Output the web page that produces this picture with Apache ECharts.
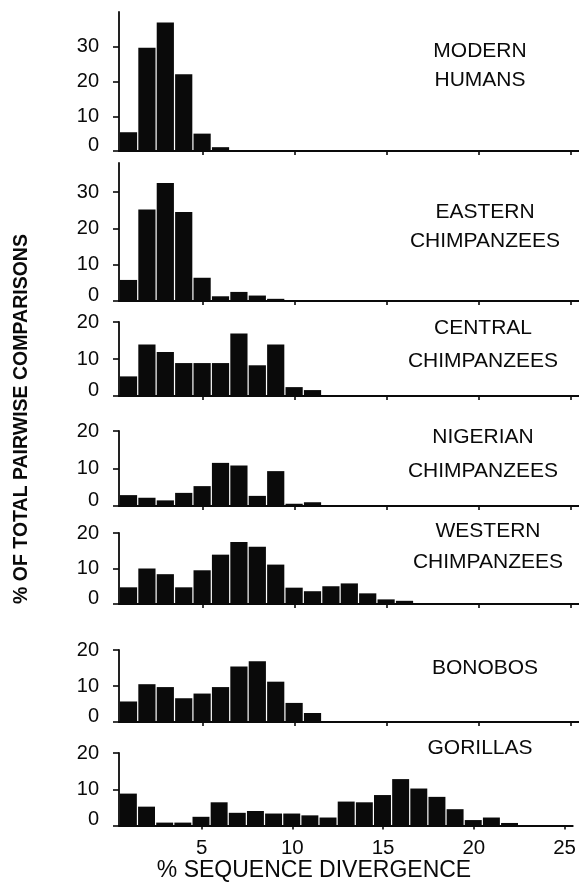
<!DOCTYPE html>
<html><head><meta charset="utf-8">
<script src="https://cdn.jsdelivr.net/npm/echarts@6/dist/echarts.min.js"></script>
<style>html,body{margin:0;padding:0;background:#fff}#c{width:579px;height:886px}</style>
</head><body><div id="c"></div>
<script>
// ---- data (bin centre = 1,2,3,... % divergence, bin width 1) ----
const panelTitles = [
  ['MODERN', 'HUMANS'],
  ['EASTERN', 'CHIMPANZEES'],
  ['CENTRAL', 'CHIMPANZEES'],
  ['NIGERIAN', 'CHIMPANZEES'],
  ['WESTERN', 'CHIMPANZEES'],
  ['BONOBOS'],
  ['GORILLAS']
];
const modernHumans = [5.4, 29.7, 37.0, 22.1, 5.0, 1.1];
const easternChimps = [5.8, 25.2, 32.5, 24.5, 6.4, 1.3, 2.5, 1.5, 0.6];
const centralChimps = [5.3, 13.9, 11.9, 8.9, 8.9, 8.9, 16.9, 8.3, 13.9, 2.4, 1.6];
const nigerianChimps = [2.9, 2.2, 1.5, 3.5, 5.3, 11.5, 10.8, 2.7, 9.3, 0.6, 1.0];
const westernChimps = [4.7, 10.0, 8.4, 4.7, 9.5, 13.9, 17.5, 16.1, 11.1, 4.6, 3.6, 5.0, 5.8, 3.0, 1.3, 0.9];
const bonobos = [5.7, 10.5, 9.7, 6.6, 7.9, 9.7, 15.4, 16.9, 11.2, 5.3, 2.5];
const gorillas = [8.8, 5.2, 0.8, 0.8, 2.4, 6.4, 3.5, 4.0, 3.3, 3.3, 2.8, 2.2, 6.6, 6.4, 8.4, 12.8, 10.2, 7.9, 4.5, 1.5, 2.2, 0.7];
const xTickValues = [5, 10, 15, 20, 25];
const yTicksTall = [0, 10, 20, 30];
const yTicksShort = [0, 10, 20];
const yAxisTitle = '% OF TOTAL PAIRWISE COMPARISONS';
const xAxisTitle = '% SEQUENCE DIVERGENCE';

const seriesValues = [modernHumans, easternChimps, centralChimps, nigerianChimps, westernChimps, bonobos, gorillas];
const yMaxes = [40, 38, 20, 20, 20, 20, 20];
const yTicks = [yTicksTall, yTicksTall, yTicksShort, yTicksShort, yTicksShort, yTicksShort, yTicksShort];

// ---- layout ----
const gridLayout = [
  {top: 12, height: 139},
  {top: 163, height: 138},
  {top: 322, height: 74},
  {top: 431, height: 75},
  {top: 533, height: 71},
  {top: 650, height: 72},
  {top: 753, height: 72.5}
];
const titlePos = [
  {x: 480, ys: [51, 80]},
  {x: 485, ys: [212, 241]},
  {x: 483, ys: [328, 361]},
  {x: 483, ys: [437, 471]},
  {x: 488, ys: [531, 562]},
  {x: 485, ys: [668]},
  {x: 480, ys: [748]}
];
const FONT = '"Liberation Sans", Arial, Helvetica, sans-serif';
const INK = '#0a0a0a';

const chart = echarts.init(document.getElementById('c'), null, {renderer: 'canvas'});

const grids = [], xAxes = [], yAxes = [], series = [], graphics = [];
gridLayout.forEach((g, i) => {
  const last = i === gridLayout.length - 1;
  grids.push({left: 119, width: 460, top: g.top, height: g.height, containLabel: false});
  xAxes.push({
    type: 'value', gridIndex: i, min: 0.45, max: 25.45,
    axisLine: {show: true, onZero: false, lineStyle: {color: INK, width: 1.8}},
    axisTick: {show: true, inside: false, length: 4, customValues: xTickValues, lineStyle: {color: INK, width: 1.6}},
    axisLabel: {show: last, customValues: xTickValues, fontSize: 20.5, fontFamily: FONT, color: INK, margin: 12},
    splitLine: {show: false}
  });
  yAxes.push({
    type: 'value', gridIndex: i, min: 0, max: yMaxes[i],
    axisLine: {show: true, lineStyle: {color: INK, width: 1.8}},
    axisTick: {show: true, inside: false, length: 6, customValues: yTicks[i], lineStyle: {color: INK, width: 1.6}},
    axisLabel: {
      show: true, customValues: yTicks[i], fontSize: 20, fontFamily: FONT, color: INK, margin: 20,
      formatter: v => v === 0 ? '{z|0}' : String(v),
      rich: {z: {fontSize: 20, fontFamily: FONT, color: INK, padding: [0, 0, 12, 0]}}
    },
    splitLine: {show: false}
  });
  series.push({
    type: 'custom', xAxisIndex: i, yAxisIndex: i,
    data: seriesValues[i].map((v, k) => [k + 1, v]),
    renderItem: (params, api) => {
      const x = api.value(0), y = api.value(1);
      const p0 = api.coord([x - 0.5, y]);
      const p1 = api.coord([x + 0.5, 0]);
      return {
        type: 'rect',
        shape: {x: p0[0], y: p0[1], width: p1[0] - p0[0] - 1.2, height: p1[1] - p0[1]},
        style: {fill: INK}
      };
    },
    silent: true, animation: false
  });
  panelTitles[i].forEach((line, j) => {
    graphics.push({
      type: 'text', x: titlePos[i].x, y: titlePos[i].ys[j],
      style: {text: line, font: '21px ' + FONT, fill: INK, textAlign: 'center', textVerticalAlign: 'middle'}
    });
  });
});

graphics.push({
  type: 'text', x: 22, y: 419, rotation: Math.PI / 2,
  style: {text: yAxisTitle, font: 'bold 19.5px ' + FONT, fill: INK, textAlign: 'center', textVerticalAlign: 'middle'}
});
graphics.push({
  type: 'text', x: 314, y: 871,
  style: {text: xAxisTitle, font: '23px ' + FONT, fill: INK, textAlign: 'center', textVerticalAlign: 'middle'}
});

chart.setOption({
  animation: false,
  backgroundColor: '#fff',
  grid: grids, xAxis: xAxes, yAxis: yAxes, series: series,
  graphic: graphics
});
</script></body></html>
